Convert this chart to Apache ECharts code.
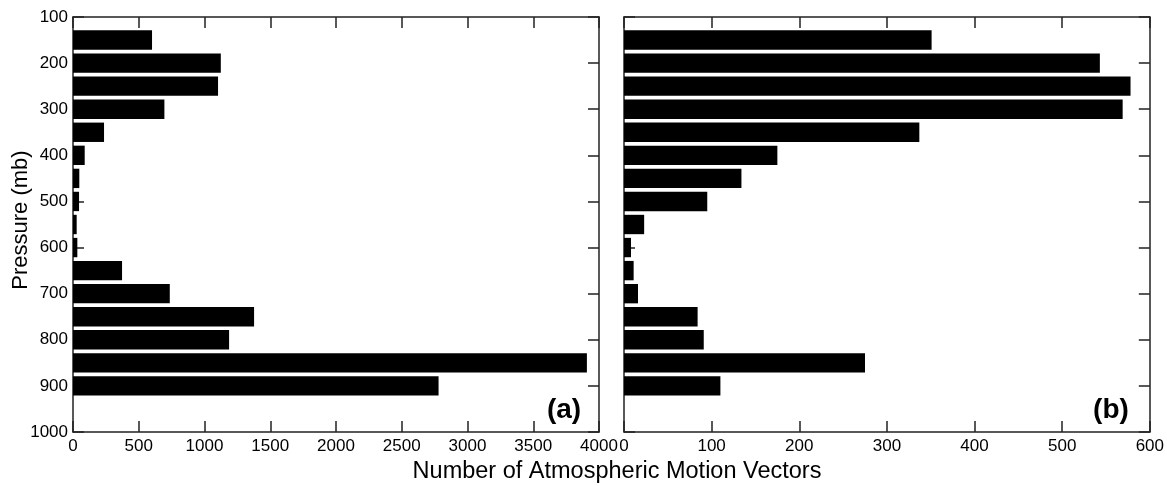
<!DOCTYPE html>
<html><head><meta charset="utf-8">
<script src="https://cdn.jsdelivr.net/npm/echarts@6/dist/echarts.min.js"></script>
<style>html,body{margin:0;padding:0;background:#fff}#c{width:1167px;height:486px}</style>
</head><body><div id="c"></div>
<script>
// Pressure levels (bar positions every 50 mb)
const pressureLevels = ['100','150','200','250','300','350','400','450','500','550','600','650','700','750','800','850','900','950','1000'];
const barPressures = ['150','200','250','300','350','400','450','500','550','600','650','700','750','800','850','900'];
const countsA = [601, 1124, 1103, 695, 236, 89, 48, 46, 28, 33, 373, 736, 1377, 1187, 3908, 2780];
const countsB = [351, 543, 578, 569, 337, 175, 134, 95, 23, 8, 11, 16, 84, 91, 275, 110];
const xTicksA = {min: 0, max: 4000, interval: 500};
const xTicksB = {min: 0, max: 600, interval: 100};
const yTicks = {min: 100, max: 1000, interval: 100};

const FONT = '"Liberation Sans", Arial, Helvetica, sans-serif';
const frame = {show: true, onZero: false, lineStyle: {color: '#222', width: 1.5}};
const tick = {show: true, inside: true, length: 11, lineStyle: {color: '#222', width: 1.5}};
const plain = (v) => String(v);

function xAxes(gridIndex, t) {
  return [
    {type: 'value', gridIndex, position: 'bottom', min: t.min, max: t.max, interval: t.interval,
     axisLine: frame, axisTick: tick, splitLine: {show: false},
     axisLabel: {show: true, margin: 6, color: '#000', fontSize: 17, fontFamily: FONT, formatter: plain}},
    {type: 'value', gridIndex, position: 'top', min: t.min, max: t.max, interval: t.interval,
     axisLine: frame, axisTick: tick, splitLine: {show: false}, axisLabel: {show: false}}
  ];
}
function yAxes(gridIndex, showLabels) {
  return [
    {type: 'category', gridIndex, show: false, inverse: true, boundaryGap: false, data: pressureLevels},
    {type: 'value', gridIndex, position: 'left', inverse: true, min: yTicks.min, max: yTicks.max, interval: yTicks.interval,
     axisLine: frame, axisTick: tick, splitLine: {show: false},
     axisLabel: {show: showLabels, margin: 5, color: '#000', fontSize: 17, fontFamily: FONT, formatter: plain}},
    {type: 'value', gridIndex, position: 'right', inverse: true, min: yTicks.min, max: yTicks.max, interval: yTicks.interval,
     axisLine: frame, axisTick: tick, splitLine: {show: false}, axisLabel: {show: false}}
  ];
}

const chart = echarts.init(document.getElementById('c'), null, {renderer: 'canvas'});
chart.setOption({
  backgroundColor: '#fff',
  animation: false,
  grid: [
    {left: 73, top: 17, width: 526, height: 415},
    {left: 624, top: 17, width: 528, height: 415}
  ],
  xAxis: [].concat(xAxes(0, xTicksA), xAxes(1, xTicksB)),
  yAxis: [].concat(yAxes(0, true), yAxes(1, false)),
  series: [
    {type: 'bar', xAxisIndex: 0, yAxisIndex: 0, barWidth: '84%', itemStyle: {color: '#000'}, z: 1,
     data: barPressures.map((p, i) => [countsA[i], p])},
    {type: 'bar', xAxisIndex: 2, yAxisIndex: 3, barWidth: '84%', itemStyle: {color: '#000'}, z: 1,
     data: barPressures.map((p, i) => [countsB[i], p])}
  ],
  graphic: [
    {type: 'text', x: 617, y: 472, style: {text: 'Number of Atmospheric Motion Vectors', x: 0, y: 0,
      align: 'center', verticalAlign: 'middle', fill: '#000', font: '23.5px ' + FONT}},
    {type: 'text', x: 21, y: 220, rotation: Math.PI / 2, style: {text: 'Pressure (mb)', x: 0, y: 0,
      align: 'center', verticalAlign: 'middle', fill: '#000', font: '22px ' + FONT}},
    {type: 'text', x: 564, y: 410, style: {text: '(a)', x: 0, y: 0, align: 'center', verticalAlign: 'middle', fill: '#000', font: 'bold 28px ' + FONT}},
    {type: 'text', x: 1111, y: 410, style: {text: '(b)', x: 0, y: 0, align: 'center', verticalAlign: 'middle', fill: '#000', font: 'bold 28px ' + FONT}}
  ]
});
</script></body></html>
